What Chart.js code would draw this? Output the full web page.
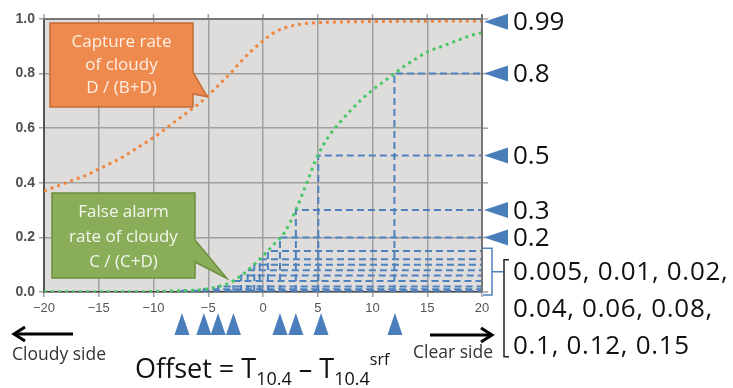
<!DOCTYPE html>
<html>
<head>
<meta charset="utf-8">
<script src="https://cdn.jsdelivr.net/npm/chart.js"></script>
<style>
body { margin: 0; background: #fff; }
#wrap { width: 733px; height: 388px; position: relative; }
</style>
</head>
<body>
<div id="wrap"><canvas id="offset"></canvas></div>
<script>
// offset values on the x axis
const offsets = [-20, -19, -18, -17, -16, -15, -14, -13, -12, -11, -10, -9, -8, -7, -6, -5, -4, -3, -2, -1,
    0, 1, 2, 3, 4, 5, 6, 7, 8, 9, 10, 11, 12, 13, 14, 15, 16, 17, 18, 19, 20];
// capture rate of cloudy D/(B+D)
const captureRate = [0.37, 0.385, 0.40, 0.415, 0.43, 0.45, 0.47, 0.49, 0.515, 0.54, 0.565, 0.595, 0.625, 0.655, 0.685,
    0.72, 0.76, 0.80, 0.845, 0.885, 0.92, 0.95, 0.968, 0.978, 0.984, 0.987, 0.988, 0.989, 0.99, 0.99,
    0.991, 0.991, 0.991, 0.992, 0.992, 0.992, 0.992, 0.993, 0.993, 0.993, 0.993];
// false alarm rate of cloudy C/(C+D)
const falseAlarm = [0.001, 0.001, 0.001, 0.001, 0.001, 0.001, 0.001, 0.001, 0.001, 0.001, 0.002, 0.003, 0.004, 0.0055, 0.007,
    0.012, 0.021, 0.034, 0.06, 0.093, 0.133, 0.175, 0.22, 0.30, 0.40, 0.50, 0.57, 0.62, 0.665, 0.705,
    0.74, 0.77, 0.80, 0.83, 0.855, 0.88, 0.895, 0.91, 0.925, 0.94, 0.95];
// thresholds and the offset where the false alarm curve crosses them
const thresholds = [0.005, 0.01, 0.02, 0.04, 0.06, 0.08, 0.1, 0.12, 0.15, 0.2, 0.3, 0.5, 0.8];
const thresholdOffsets = [-7.4, -5.4, -4.1, -2.7, -2.0, -1.4, -0.8, -0.3, 0.45, 1.55, 3.0, 5.05, 12.0];
// triangles under the axis and on the right
const markedOffsets = [-7.4, -5.4, -4.1, -2.7, 1.55, 3.0, 5.3, 12.05];
const markedRates = [0.99, 0.8, 0.5, 0.3, 0.2];
const bracketLabels = ['0.005, 0.01, 0.02,', '0.04, 0.06, 0.08,', '0.1, 0.12, 0.15'];

const blue = '#4f81bd';
const font = '"Open Sans", sans-serif';

const curve = (label, values, color) => ({
    label: label,
    data: offsets.map((x, i) => ({x: x, y: values[i]})),
    showLine: true,
    borderColor: color,
    borderWidth: 3,
    borderDash: [3, 4],
    pointRadius: 0,
    cubicInterpolationMode: 'monotone',
    fill: false
});

const datasets = [
    curve('Capture rate', captureRate, '#f0853f'),
    curve('False alarm rate', falseAlarm, '#48c865')
];
thresholds.forEach((t, i) => {
    datasets.push({
        label: 'threshold ' + t,
        data: [{x: thresholdOffsets[i], y: 0}, {x: thresholdOffsets[i], y: t}, {x: 20, y: t}],
        showLine: true,
        borderColor: blue,
        borderWidth: 2,
        borderDash: [7, 4],
        pointRadius: 0,
        fill: false
    });
});

function callout(ctx, box, notch, tip, fill, stroke, textColor, lines, lineYs) {
    ctx.save();
    ctx.beginPath();
    ctx.moveTo(box.l, box.t);
    ctx.lineTo(box.r, box.t);
    ctx.lineTo(box.r, notch[0]);
    ctx.lineTo(tip.x, tip.y);
    ctx.lineTo(box.r, notch[1]);
    ctx.lineTo(box.r, box.b);
    ctx.lineTo(box.l, box.b);
    ctx.closePath();
    ctx.fillStyle = fill;
    ctx.fill();
    ctx.lineWidth = 1.5;
    ctx.strokeStyle = stroke;
    ctx.stroke();
    ctx.fillStyle = textColor;
    ctx.font = '17px ' + font;
    ctx.textAlign = 'center';
    ctx.textBaseline = 'middle';
    const cx = (box.l + box.r) / 2;
    lines.forEach((s, i) => ctx.fillText(s, cx, lineYs[i]));
    ctx.restore();
}

function arrow(ctx, x1, x2, y) {
    const dir = x2 > x1 ? 1 : -1;
    ctx.save();
    ctx.strokeStyle = '#000';
    ctx.lineWidth = 3;
    ctx.beginPath();
    ctx.moveTo(x1, y);
    ctx.lineTo(x2 - dir * 2, y);
    ctx.stroke();
    ctx.beginPath();
    ctx.moveTo(x2 - dir * 11, y - 7);
    ctx.lineTo(x2, y);
    ctx.lineTo(x2 - dir * 11, y + 7);
    ctx.stroke();
    ctx.restore();
}

const decor = {
    id: 'decor',
    beforeDraw(chart) {
        const {ctx, chartArea: a} = chart;
        ctx.save();
        ctx.fillStyle = '#dedddc';
        ctx.fillRect(a.left, a.top, a.right - a.left, a.bottom - a.top);
        ctx.restore();
    },
    afterDraw(chart) {
        const {ctx, chartArea: a} = chart;
        const xs = chart.scales.x, ys = chart.scales.y;
        ctx.save();

        // top and right frame with outer ticks
        ctx.strokeStyle = '#a0a0a0';
        ctx.lineWidth = 1.5;
        xs.ticks.forEach(t => {
            const px = xs.getPixelForValue(t.value);
            ctx.beginPath(); ctx.moveTo(px, a.top - 5); ctx.lineTo(px, a.top); ctx.stroke();
        });
        ys.ticks.forEach(t => {
            const py = ys.getPixelForValue(t.value);
            ctx.beginPath(); ctx.moveTo(a.right, py); ctx.lineTo(a.right + 6, py); ctx.stroke();
        });
        ctx.strokeStyle = '#777';
        ctx.lineWidth = 2;
        ctx.beginPath();
        ctx.moveTo(a.left, a.top);
        ctx.lineTo(a.right, a.top);
        ctx.moveTo(a.right, a.top - 5);
        ctx.lineTo(a.right, a.bottom);
        ctx.stroke();

        // triangles pointing at the rates on the right
        ctx.fillStyle = '#4a7ebb';
        markedRates.forEach(r => {
            const py = ys.getPixelForValue(r);
            ctx.beginPath();
            ctx.moveTo(a.right + 2, py);
            ctx.lineTo(a.right + 26, py - 8);
            ctx.lineTo(a.right + 26, py + 8);
            ctx.closePath();
            ctx.fill();
        });
        // triangles under the axis
        markedOffsets.forEach(o => {
            const px = xs.getPixelForValue(o);
            ctx.beginPath();
            ctx.moveTo(px, a.bottom + 21);
            ctx.lineTo(px + 7.5, a.bottom + 43);
            ctx.lineTo(px - 7.5, a.bottom + 43);
            ctx.closePath();
            ctx.fill();
        });

        ctx.fillStyle = '#111';
        ctx.font = '26px ' + font;
        ctx.textAlign = 'left';
        ctx.textBaseline = 'middle';
        markedRates.forEach(r => {
            ctx.fillText(String(r), a.right + 31, ys.getPixelForValue(r) + 1);
        });

        // bracket for the small thresholds
        const yTop = ys.getPixelForValue(0.16), yBot = a.bottom + 3;
        const yMid = (yTop + yBot) / 2;
        ctx.strokeStyle = blue;
        ctx.lineWidth = 1.5;
        ctx.beginPath();
        ctx.moveTo(a.right + 1, yTop);
        ctx.lineTo(a.right + 10, yTop);
        ctx.lineTo(a.right + 10, yBot);
        ctx.lineTo(a.right + 1, yBot);
        ctx.moveTo(a.right + 10, yMid);
        ctx.lineTo(a.right + 21, yMid);
        ctx.stroke();
        ctx.strokeStyle = '#222';
        ctx.beginPath();
        ctx.moveTo(a.right + 27, yMid - 12);
        ctx.lineTo(a.right + 22, yMid - 12);
        ctx.lineTo(a.right + 22, yMid + 85);
        ctx.lineTo(a.right + 27, yMid + 85);
        ctx.stroke();
        ctx.letterSpacing = '0.7px';
        bracketLabels.forEach((s, i) => ctx.fillText(s, a.right + 31, yMid + 1 + i * 37));
        ctx.letterSpacing = '0px';

        // side arrows and captions
        arrow(ctx, 73, 14, a.bottom + 42);
        arrow(ctx, 430, 492, a.bottom + 43);
        ctx.fillStyle = '#333';
        ctx.font = '17.5px ' + font;
        ctx.fillText('Cloudy side', 12, a.bottom + 63);
        ctx.fillText('Clear side', 413, a.bottom + 61);

        // Offset = T10.4 - T10.4 srf
        const parts = [['Offset = T', 27, 0], ['10.4', 18, 7], [' \u2013 T', 27, 0], ['10.4', 18, 7], ['srf', 16, -13]];
        let x = 135;
        const base = a.bottom + 86;
        ctx.fillStyle = '#111';
        ctx.textBaseline = 'alphabetic';
        parts.forEach(p => {
            ctx.font = p[1] + 'px ' + font;
            ctx.fillText(p[0], x, base + p[2]);
            x += ctx.measureText(p[0]).width;
        });
        ctx.restore();

        // callouts
        callout(ctx, {l: a.left + 6, t: a.top + 4, r: a.left + 149, b: a.top + 88},
            [a.top + 53, a.top + 75],
            {x: xs.getPixelForValue(-5.1), y: ys.getPixelForValue(0.715)},
            '#ef8a4f', '#c46c36', '#fcefe4',
            ['Capture rate', 'of cloudy', 'D / (B+D)'], [a.top + 23, a.top + 46, a.top + 69]);
        callout(ctx, {l: a.left + 8, t: a.top + 174, r: a.left + 151, b: a.top + 259},
            [a.top + 221, a.top + 243],
            {x: xs.getPixelForValue(-3.3), y: ys.getPixelForValue(0.05)},
            '#8aad5a', '#6c8d40', '#f3f6ec',
            ['False alarm', 'rate of cloudy', 'C / (C+D)'], [a.top + 193, a.top + 218, a.top + 243]);
    }
};

const chart = new Chart(
    document.getElementById('offset'),
    {
    type: 'scatter',
    data: { datasets: datasets },
    options: {
        responsive: true,
        maintainAspectRatio: false,
        animation: false,
        layout: { padding: { left: 0, top: 19, right: 251, bottom: 72 } },
        plugins: {
            legend: { display: false },
            tooltip: { enabled: false }
        },
        scales: {
            x: {
                type: 'linear',
                min: -20,
                max: 20,
                afterFit: s => { s.height = 24; },
                grid: { color: '#a0a0a0', lineWidth: 1.5, tickLength: 5 },
                border: { color: '#444', width: 1.5 },
                ticks: {
                    stepSize: 5,
                    padding: 4,
                    color: '#555',
                    font: { family: 'Liberation Sans', size: 13 },
                    callback: v => v < 0 ? '\u2212' + Math.abs(v) : String(v)
                }
            },
            y: {
                min: 0,
                max: 1,
                afterFit: s => { s.width = 44; },
                grid: { color: '#a0a0a0', lineWidth: 1.5, tickLength: 5 },
                border: { color: '#555', width: 2 },
                ticks: {
                    stepSize: 0.2,
                    padding: 4,
                    color: '#505050',
                    font: { family: 'Liberation Sans', size: 14, weight: 'bold' },
                    callback: v => v.toFixed(1)
                }
            }
        }
    },
    plugins: [decor]
    }
);
</script>
</body>
</html>
